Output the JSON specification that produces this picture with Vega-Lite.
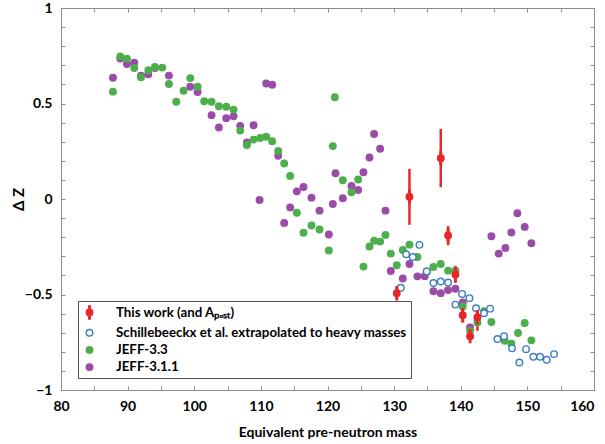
{
  "$schema": "https://vega.github.io/schema/vega-lite/v6.json",
  "width": 533,
  "height": 382,
  "autosize": "none",
  "padding": {"left": 61, "top": 8, "right": 11, "bottom": 54},
  "background": "white",
  "config": {
    "view": {"stroke": "#8c8c8c", "strokeWidth": 1},
    "font": "Lato",
    "axis": {"grid": false, "domainColor": "#8c8c8c", "tickColor": "#8c8c8c", "tickSize": -4, "tickWidth": 1, "labelFont": "Lato", "labelFontSize": 14, "labelFontWeight": "bold", "labelColor": "black", "titleFont": "Lato", "titleFontSize": 14, "titleFontWeight": "bold", "titleColor": "black", "labelFlush": false, "labelOverlap": false}
  },
  "data": {"values": [
    {"s":"j311","m":87.8,"dz":0.635},{"s":"j311","m":88.9,"dz":0.735},{"s":"j311","m":89.9,"dz":0.707},{"s":"j311","m":91.0,"dz":0.714},{"s":"j311","m":92.0,"dz":0.646},{"s":"j311","m":93.1,"dz":0.653},{"s":"j311","m":94.1,"dz":0.686},{"s":"j311","m":96.2,"dz":0.646},{"s":"j311","m":99.4,"dz":0.588},{"s":"j311","m":100.5,"dz":0.56},{"s":"j311","m":102.6,"dz":0.439},{"s":"j311","m":103.7,"dz":0.374},{"s":"j311","m":104.8,"dz":0.423},{"s":"j311","m":105.9,"dz":0.433},{"s":"j311","m":106.9,"dz":0.383},{"s":"j311","m":107.9,"dz":0.296},{"s":"j311","m":108.9,"dz":0.386},{"s":"j311","m":109.8,"dz":-0.005},{"s":"j311","m":110.8,"dz":0.605},{"s":"j311","m":111.7,"dz":0.598},{"s":"j311","m":112.6,"dz":0.226},{"s":"j311","m":113.5,"dz":-0.125},{"s":"j311","m":114.4,"dz":-0.044},{"s":"j311","m":115.4,"dz":0.04},{"s":"j311","m":116.4,"dz":0.063},{"s":"j311","m":117.6,"dz":0.007},{"s":"j311","m":118.8,"dz":-0.061},{"s":"j311","m":120.2,"dz":-0.186},{"s":"j311","m":120.8,"dz":-0.026},{"s":"j311","m":121.2,"dz":0.135},{"s":"j311","m":122.3,"dz":0.004},{"s":"j311","m":123.6,"dz":0.068},{"s":"j311","m":124.6,"dz":0.047},{"s":"j311","m":125.4,"dz":0.14},{"s":"j311","m":126.3,"dz":0.217},{"s":"j311","m":127.0,"dz":0.34},{"s":"j311","m":127.9,"dz":0.263},{"s":"j311","m":128.7,"dz":-0.061},{"s":"j311","m":129.5,"dz":-0.377},{"s":"j311","m":131.3,"dz":-0.416},{"s":"j311","m":132.3,"dz":-0.34},{"s":"j311","m":133.5,"dz":-0.405},{"s":"j311","m":134.6,"dz":-0.404},{"s":"j311","m":135.9,"dz":-0.483},{"s":"j311","m":137.0,"dz":-0.493},{"s":"j311","m":138.1,"dz":-0.477},{"s":"j311","m":139.2,"dz":-0.47},{"s":"j311","m":140.3,"dz":-0.542},{"s":"j311","m":141.4,"dz":-0.672},{"s":"j311","m":144.6,"dz":-0.195},{"s":"j311","m":145.7,"dz":-0.286},{"s":"j311","m":146.7,"dz":-0.256},{"s":"j311","m":147.6,"dz":-0.175},{"s":"j311","m":148.5,"dz":-0.075},{"s":"j311","m":149.6,"dz":-0.146},{"s":"j311","m":150.6,"dz":-0.232},
    {"s":"j33","m":87.8,"dz":0.562},{"s":"j33","m":88.9,"dz":0.746},{"s":"j33","m":89.9,"dz":0.735},{"s":"j33","m":91.0,"dz":0.686},{"s":"j33","m":92.0,"dz":0.637},{"s":"j33","m":93.1,"dz":0.674},{"s":"j33","m":94.1,"dz":0.691},{"s":"j33","m":95.2,"dz":0.688},{"s":"j33","m":96.2,"dz":0.602},{"s":"j33","m":97.3,"dz":0.509},{"s":"j33","m":98.4,"dz":0.567},{"s":"j33","m":99.4,"dz":0.633},{"s":"j33","m":100.5,"dz":0.588},{"s":"j33","m":101.5,"dz":0.512},{"s":"j33","m":102.6,"dz":0.509},{"s":"j33","m":103.7,"dz":0.486},{"s":"j33","m":104.8,"dz":0.483},{"s":"j33","m":105.9,"dz":0.468},{"s":"j33","m":106.9,"dz":0.358},{"s":"j33","m":107.9,"dz":0.283},{"s":"j33","m":108.9,"dz":0.311},{"s":"j33","m":109.9,"dz":0.319},{"s":"j33","m":110.8,"dz":0.326},{"s":"j33","m":111.7,"dz":0.302},{"s":"j33","m":112.6,"dz":0.251},{"s":"j33","m":113.5,"dz":0.186},{"s":"j33","m":114.4,"dz":0.121},{"s":"j33","m":115.4,"dz":-0.072},{"s":"j33","m":116.4,"dz":-0.177},{"s":"j33","m":117.6,"dz":-0.139},{"s":"j33","m":118.8,"dz":-0.16},{"s":"j33","m":120.2,"dz":-0.27},{"s":"j33","m":120.8,"dz":0.277},{"s":"j33","m":121.1,"dz":0.533},{"s":"j33","m":122.3,"dz":0.098},{"s":"j33","m":123.6,"dz":0.035},{"s":"j33","m":124.6,"dz":0.102},{"s":"j33","m":125.4,"dz":-0.354},{"s":"j33","m":126.3,"dz":-0.249},{"s":"j33","m":127.0,"dz":-0.219},{"s":"j33","m":127.9,"dz":-0.223},{"s":"j33","m":128.7,"dz":-0.188},{"s":"j33","m":129.5,"dz":-0.286},{"s":"j33","m":130.4,"dz":-0.347},{"s":"j33","m":131.3,"dz":-0.267},{"s":"j33","m":132.3,"dz":-0.239},{"s":"j33","m":133.5,"dz":-0.304},{"s":"j33","m":134.9,"dz":-0.379},{"s":"j33","m":135.9,"dz":-0.356},{"s":"j33","m":137.0,"dz":-0.34},{"s":"j33","m":138.1,"dz":-0.375},{"s":"j33","m":139.2,"dz":-0.375},{"s":"j33","m":140.3,"dz":-0.563},{"s":"j33","m":141.4,"dz":-0.689},{"s":"j33","m":142.5,"dz":-0.646},{"s":"j33","m":143.5,"dz":-0.588},{"s":"j33","m":144.6,"dz":-0.644},{"s":"j33","m":146.6,"dz":-0.742},{"s":"j33","m":147.6,"dz":-0.758},{"s":"j33","m":148.6,"dz":-0.702},{"s":"j33","m":149.6,"dz":-0.649},{"s":"j33","m":150.6,"dz":-0.74},
    {"s":"sch","m":131.0,"dz":-0.465},{"s":"sch","m":131.8,"dz":-0.289},{"s":"sch","m":132.8,"dz":-0.304},{"s":"sch","m":133.8,"dz":-0.24},{"s":"sch","m":134.9,"dz":-0.379},{"s":"sch","m":135.9,"dz":-0.44},{"s":"sch","m":137.0,"dz":-0.432},{"s":"sch","m":138.1,"dz":-0.437},{"s":"sch","m":139.2,"dz":-0.553},{"s":"sch","m":140.2,"dz":-0.497},{"s":"sch","m":141.3,"dz":-0.519},{"s":"sch","m":142.3,"dz":-0.572},{"s":"sch","m":143.5,"dz":-0.598},{"s":"sch","m":144.4,"dz":-0.574},{"s":"sch","m":145.5,"dz":-0.733},{"s":"sch","m":146.5,"dz":-0.718},{"s":"sch","m":147.7,"dz":-0.782},{"s":"sch","m":148.8,"dz":-0.856},{"s":"sch","m":149.8,"dz":-0.786},{"s":"sch","m":150.9,"dz":-0.826},{"s":"sch","m":151.9,"dz":-0.826},{"s":"sch","m":152.9,"dz":-0.842},{"s":"sch","m":154.0,"dz":-0.812},
    {"s":"tw","m":130.4,"dz":-0.493,"lo":-0.505,"hi":-0.48},{"s":"tw","m":132.3,"dz":0.012,"lo":-0.135,"hi":0.158},{"s":"tw","m":137.0,"dz":0.214,"lo":0.062,"hi":0.367},{"s":"tw","m":138.1,"dz":-0.191,"lo":-0.242,"hi":-0.142},{"s":"tw","m":139.2,"dz":-0.395,"lo":-0.44,"hi":-0.35},{"s":"tw","m":140.3,"dz":-0.609,"lo":-0.646,"hi":-0.572},{"s":"tw","m":141.4,"dz":-0.718,"lo":-0.73,"hi":-0.705},{"s":"tw","m":142.5,"dz":-0.619,"lo":-0.69,"hi":-0.56}
  ]},
  "layer": [
    {
      "transform": [{"filter": "datum.s == 'tw'"}],
      "mark": {"type": "rule", "color": "#e8262b", "strokeWidth": 2.5},
      "encoding": {
        "x": {"field": "m", "type": "quantitative", "scale": {"domain": [80, 160], "nice": false, "zero": false},
          "axis": {"title": "Equivalent pre-neutron mass", "values": [80,85,90,95,100,105,110,115,120,125,130,135,140,145,150,155,160], "labelExpr": "datum.value % 10 == 0 ? datum.label : ''", "labelAlign": {"condition": {"test": "datum.value == 160", "value": "right"}, "value": "center"}, "labelPadding": 13, "titleY": 42, "titleBaseline": "middle"}},
        "y": {"field": "lo", "type": "quantitative", "scale": {"domain": [-1, 1], "nice": false, "zero": false},
          "axis": {"title": "Δ Z", "values": [-1,-0.9,-0.8,-0.7,-0.6,-0.5,-0.4,-0.3,-0.2,-0.1,0,0.1,0.2,0.3,0.4,0.5,0.6,0.7,0.8,0.9,1], "labelExpr": "abs(datum.value*2 - round(datum.value*2)) < 0.001 ? format(datum.value, '~g') : ''", "labelPadding": 13, "titleX": -43, "titleY": 191, "titleAlign": "center", "titleBaseline": "middle", "titleFontSize": 15}},
        "y2": {"field": "hi"}
      }
    },
    {
      "mark": {"type": "point", "opacity": 1, "strokeWidth": 1.4, "size": 170},
      "encoding": {
        "x": {"field": "m", "type": "quantitative", "scale": {"domain": [80, 160], "nice": false, "zero": false},
          "axis": {"orient": "top", "title": null, "labels": false, "values": [80,85,90,95,100,105,110,115,120,125,130,135,140,145,150,155,160]}},
        "y": {"field": "dz", "type": "quantitative", "scale": {"domain": [-1, 1], "nice": false, "zero": false},
          "axis": {"orient": "right", "title": null, "labels": false, "values": [-1,-0.9,-0.8,-0.7,-0.6,-0.5,-0.4,-0.3,-0.2,-0.1,0,0.1,0.2,0.3,0.4,0.5,0.6,0.7,0.8,0.9,1]}},
        "stroke": {"field": "s", "type": "nominal",
          "scale": {"domain": ["tw","sch","j33","j311"], "range": ["#e8262b","#3b7dc4","#4caf4b","#9b4ba8"]},
          "legend": {"title": null, "orient": "none", "legendX": 17, "legendY": 293, "strokeColor": "#555555", "fillColor": "white", "padding": 4, "rowPadding": 3.2, "labelFont": "Lato", "labelFontSize": 13.3, "labelFontWeight": "bold", "labelColor": "black", "labelOffset": 19, "labelLimit": 400, "symbolStrokeWidth": 1.4, "symbolSize": 170,
            "labelExpr": "datum.label == 'tw' ? 'This work (and Aₚₒₛₜ)' : datum.label == 'sch' ? 'Schillebeeckx et al. extrapolated to heavy masses' : datum.label == 'j33' ? 'JEFF-3.3' : 'JEFF-3.1.1'"}},
        "fill": {"field": "s", "type": "nominal",
          "scale": {"domain": ["tw","sch","j33","j311"], "range": ["#e8262b","white","#4caf4b","#9b4ba8"]},
          "legend": {"title": null}},
        "shape": {"field": "s", "type": "nominal",
          "scale": {"domain": ["tw","sch","j33","j311"], "range": ["M-0.5,0A0.5,0.5,0,1,1,0.5,0A0.5,0.5,0,1,1,-0.5,0ZM-0.12,-1L0.12,-1L0.12,1L-0.12,1Z","M-0.5,0A0.5,0.5,0,1,1,0.5,0A0.5,0.5,0,1,1,-0.5,0Z","M-0.5,0A0.5,0.5,0,1,1,0.5,0A0.5,0.5,0,1,1,-0.5,0Z","M-0.5,0A0.5,0.5,0,1,1,0.5,0A0.5,0.5,0,1,1,-0.5,0Z"]},
          "legend": {"title": null}}
      }
    }
  ],
  "resolve": {"axis": {"x": "independent", "y": "independent"}}
}
